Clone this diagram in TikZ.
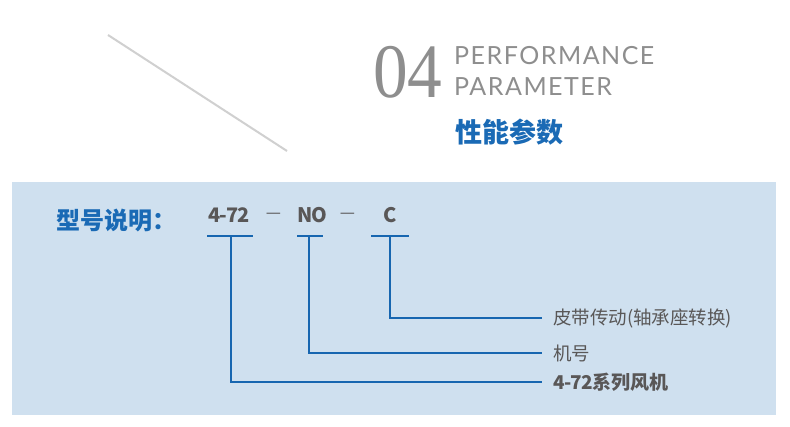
\documentclass[tikz,border=0pt]{standalone}
\usepackage{fontspec}
\usepackage{graphicx}
\newfontfamily\cjk{Noto Sans CJK SC}
\newfontfamily\cjkt[LetterSpace=-4]{Noto Sans CJK SC}
\newfontfamily\ltn[LetterSpace=6]{Lato}
\newfontfamily\srf{Liberation Serif}
\definecolor{panel}{HTML}{CFE0EF}
\definecolor{lineblue}{HTML}{1766B0}
\definecolor{titleblue}{HTML}{1A6AB5}
\definecolor{txtgray}{HTML}{595757}
\definecolor{headgray}{HTML}{8E8E8E}
\definecolor{diag}{HTML}{D0D0D0}
\tikzset{
  conn/.style={draw=lineblue,line width=2pt},
  uline/.style={draw=lineblue,line width=2.4pt},
  code/.style={font=\cjkt\bfseries\fontsize{20}{20}\selectfont,text=txtgray,inner sep=0pt,anchor=base west},
  dashtxt/.style={font=\cjk\fontsize{17}{17}\selectfont,text=txtgray,inner sep=0pt,anchor=center},
  lab/.style={font=\cjk\fontsize{18.5}{20}\selectfont,text=txtgray,anchor=west,inner xsep=0pt,inner ysep=0pt},
}
\begin{document}
\begin{tikzpicture}[x=1pt,y=-1pt]
\useasboundingbox (0,0) rectangle (790,427);
\fill[white] (0,0) rectangle (790,427);
% diagonal decoration
\draw[diag,line width=2pt] (108,35) -- (287,151);
% heading
\node[inner sep=0pt,anchor=base west,text=headgray] (num) at (373,98)
  {\scalebox{0.9}[1]{\srf\fontsize{77}{77}\selectfont 04}};
\node[inner sep=0pt,anchor=base west,text=headgray,font=\ltn\fontsize{25}{25}\selectfont] (perf) at (454,65) {PERFORMANCE};
\node[inner sep=0pt,anchor=base west,text=headgray,font=\ltn\fontsize{25}{25}\selectfont] (para) at (454,96) {PARAMETER};
\node[inner sep=0pt,anchor=base west,text=titleblue,font=\cjk\bfseries\fontsize{27}{27}\selectfont] (title) at (455,143) {性能参数};
% panel
\fill[panel] (12,182) rectangle (776,415);
\node[inner sep=0pt,anchor=base west,text=titleblue,font=\cjk\bfseries\fontsize{24}{24}\selectfont] (model) at (56,230) {型号说明：};
\node[code] (c1) at (208,223) {4-72};
\node[dashtxt] (d1) at (273.5,216) {—};
\node[code] (c2) at (297,223) {NO};
\node[dashtxt] (d2) at (347.5,216) {—};
\node[code] (c3) at (383,223) {C};
% underlines
\coordinate (u1a) at (207,236); \coordinate (u1b) at (253,236); \coordinate (u1m) at (231,236);
\coordinate (u2a) at (297,236); \coordinate (u2b) at (323,236); \coordinate (u2m) at (309,236);
\coordinate (u3a) at (371,236); \coordinate (u3b) at (409,236); \coordinate (u3m) at (390,236);
\draw[uline] (u1a) -- (u1b);
\draw[uline] (u2a) -- (u2b);
\draw[uline] (u3a) -- (u3b);
% labels
\node[lab] (l3) at (542,318) {\hspace{11pt}皮带传动(轴承座转换)};
\node[lab] (l2) at (542,353) {\hspace{11pt}机号};
\node[lab,font=\cjk\bfseries\fontsize{19}{20}\selectfont] (l1) at (542,382) {\hspace{11pt}{\cjkt 4-72}系列风机};
% connectors
\draw[conn] (u3m) |- (l3.west);
\draw[conn] (u2m) |- (l2.west);
\draw[conn] (u1m) |- (l1.west);
\end{tikzpicture}
\end{document}
